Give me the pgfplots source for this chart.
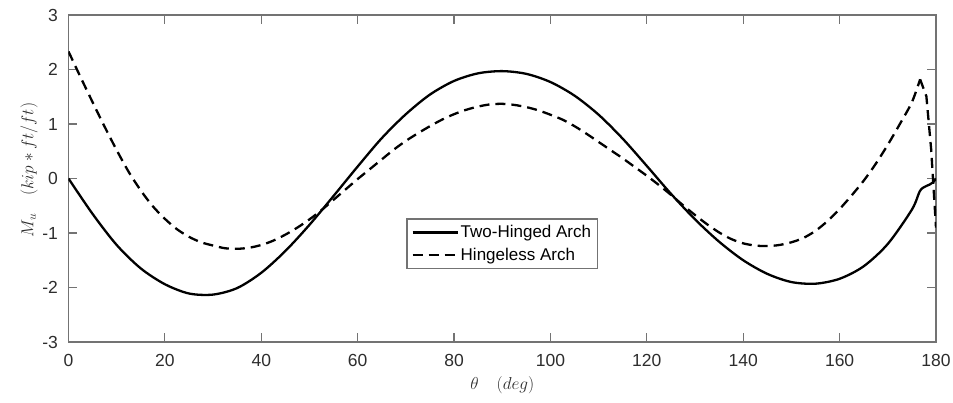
\documentclass[border=0pt]{standalone}
\usepackage{pgfplots}
\pgfplotsset{compat=1.18}
\usepackage{fontspec}
\setmainfont{Liberation Sans}
\definecolor{framegray}{RGB}{115,115,115}
\definecolor{labgray}{RGB}{45,45,45}
\begin{document}
\begin{tikzpicture}
\begin{axis}[
  scale only axis,
  width=867.5pt, height=327pt,
  xmin=0, xmax=180, ymin=-3, ymax=3,
  xtick={0,20,...,180}, ytick={-3,-2,...,3},
  tick align=inside,
  major tick length=9pt,
  axis line style={framegray, line width=1.2pt},
  every tick/.style={framegray, line width=1.2pt},
  tick label style={font=\fontsize{17.5}{20}\selectfont, text=labgray},
  /pgf/number format/assume math mode=true,
  xticklabel style={yshift=-9pt},
  yticklabel style={xshift=-7pt},
  xlabel={$\theta\quad(deg)$},
  ylabel={$M_u\quad(kip*ft/ft)$},
  label style={font=\fontsize{18}{21}\selectfont, text=labgray},
  xlabel style={at={(axis description cs:0.5,-0.131)}, anchor=center},
  ylabel style={at={(axis description cs:-0.0455,0.526)}, anchor=center, rotate=0},
  legend style={at={(axis cs:90,-1.2)}, anchor=center, draw=framegray, line width=1.2pt,
    font=\fontsize{17}{20}\selectfont, inner sep=4.5pt, row sep=5pt,
    nodes={inner sep=2pt, text=black}},
  legend cell align=left,
  legend image code/.code={\draw[#1, line width=2.3pt] (0pt,0pt) -- (45pt,0pt);},
]
\addplot[black, line width=2.3pt, smooth, tension=0.5] coordinates {
(0,0) (5,-0.65) (10,-1.22) (15,-1.65) (20,-1.94) (25,-2.11) (30,-2.13)
(35,-2.01) (40,-1.73) (45,-1.33) (50,-0.85) (55,-0.32) (60,0.22) (65,0.74) (70,1.18)
(75,1.54) (80,1.79) (85,1.93) (90,1.97) (95,1.92) (100,1.77) (105,1.52) (110,1.17)
(115,0.73) (120,0.23) (125,-0.28) (130,-0.75) (135,-1.16) (140,-1.50) (145,-1.75)
(150,-1.90) (155,-1.93) (160,-1.84) (165,-1.61) (170,-1.20) (175,-0.57)
(176.6,-0.24) (177.5,-0.16) (178.7,-0.11) (179.4,-0.07) (180,0.0)
};
\addlegendentry{Two-Hinged Arch}
\addplot[black, line width=2.3pt, dash pattern=on 10pt off 6pt, smooth, tension=0.5] coordinates {
(0,2.33) (2.5,1.86) (5,1.40) (7.5,0.95) (10,0.52) (12.5,0.12) (15,-0.22) (17.5,-0.51)
(20,-0.74) (22.5,-0.93) (25,-1.07) (27.5,-1.17) (30,-1.23) (32.5,-1.28) (35,-1.29)
(37.5,-1.27) (40,-1.22) (42.5,-1.14) (45,-1.03) (47.5,-0.90) (50,-0.75) (52.5,-0.58)
(55,-0.39) (57.5,-0.20) (60,-0.01) (62.5,0.17) (65,0.35) (67.5,0.53) (70,0.69)
(72.5,0.83) (75,0.96) (77.5,1.08) (80,1.18) (82.5,1.26) (85,1.32) (87.5,1.36) (90,1.37)
(92.5,1.35) (95,1.31) (97.5,1.25) (100,1.17) (102.5,1.08) (105,0.96) (107.5,0.82)
(110,0.67) (112.5,0.52) (115,0.37) (117.5,0.21) (120,0.05) (122.5,-0.12) (125,-0.30)
(127.5,-0.49) (130,-0.67) (132.5,-0.84) (135,-0.99) (137.5,-1.11) (140,-1.19)
(142.5,-1.23) (145,-1.24) (147.5,-1.22) (150,-1.17) (152.5,-1.09) (155,-0.96)
(157.5,-0.78) (160,-0.56) (162.5,-0.31) (165,-0.04) (167.5,0.27) (170,0.62)
(172.5,1.00) (175,1.40) (176.7,1.82)
};
\addlegendentry{Hingeless Arch}
\addplot[black, line width=2.3pt, dash pattern=on 10pt off 6pt, forget plot] coordinates {
(176.7,1.82) (178,1.51) (179,0.53) (180,-0.9)
};
\end{axis}
\pgfresetboundingbox
\useasboundingbox (-68.5pt,-60pt) rectangle (884.5pt,342pt);
\end{tikzpicture}
\end{document}
